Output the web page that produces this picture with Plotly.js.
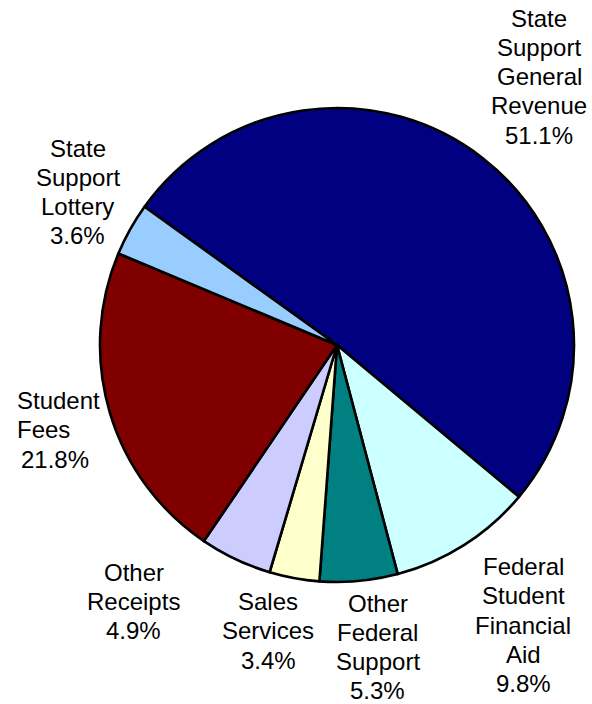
<!DOCTYPE html>
<html>
<head>
<meta charset="utf-8">
<script src="https://cdn.plot.ly/plotly-3.0.1.min.js"></script>
<style>html,body{margin:0;padding:0;background:#fff;}#chart{width:592px;height:704px;}</style>
</head>
<body>
<div id="chart"></div>
<script>
// Data (clockwise from the upper-left boundary)
const categories = ["State Support General Revenue", "Federal Student Financial Aid", "Other Federal Support", "Sales Services", "Other Receipts", "Student Fees", "State Support Lottery"];
const shares = [51.1, 9.8, 5.3, 3.4, 4.9, 21.8, 3.6];
const sliceColors = ["#000080", "#CCFFFF", "#008080", "#FFFFCC", "#CCCCFF", "#800000", "#99CCFF"];

// Label placement (pixel centers of first line), layout only
const labelX = [539, 523, 377.5, 268.3, 133.7, 15, 78];
const labelY0 = [18.3, 566.7, 603.3, 601.7, 572.2, 400.7, 148.3];
const labelAnchor = ["center", "center", "center", "center", "center", "left", "center"];
const pctX = [539, 523, 377.5, 268.3, 133.7, 54.5, 78];
const LINE = 29.2;
const W = 592, H = 704;

const annotations = [];
const font = {family: "Liberation Sans, Arial, sans-serif", size: 24, color: "#000"};
categories.forEach((name, i) => {
  const lines = name.split(" ");
  lines.forEach((ln, j) => {
    annotations.push({
      text: ln, xref: "paper", yref: "paper",
      x: labelX[i] / W, y: 1 - (labelY0[i] + j * LINE) / H,
      xanchor: labelAnchor[i], yanchor: "middle", showarrow: false, font: font
    });
  });
  annotations.push({
    text: shares[i].toFixed(1) + "%", xref: "paper", yref: "paper",
    x: pctX[i] / W, y: 1 - (labelY0[i] + lines.length * LINE) / H,
    xanchor: "center", yanchor: "middle", showarrow: false, font: font
  });
});

const cx = 337, cy = 345, r = 237;
const trace = {
  type: "pie",
  labels: categories,
  values: shares,
  sort: false,
  direction: "clockwise",
  rotation: -54.3,
  textinfo: "none",
  hoverinfo: "label+percent",
  marker: {colors: sliceColors, line: {color: "#000", width: 2.6}},
  domain: {x: [(cx - r) / W, (cx + r) / W], y: [(H - cy - r) / H, (H - cy + r) / H]},
  showlegend: false
};

Plotly.newPlot("chart", [trace], {
  width: W, height: H,
  margin: {l: 0, r: 0, t: 0, b: 0},
  paper_bgcolor: "#fff",
  showlegend: false,
  annotations: annotations
}, {displayModeBar: false, staticPlot: true});
</script>
</body>
</html>
